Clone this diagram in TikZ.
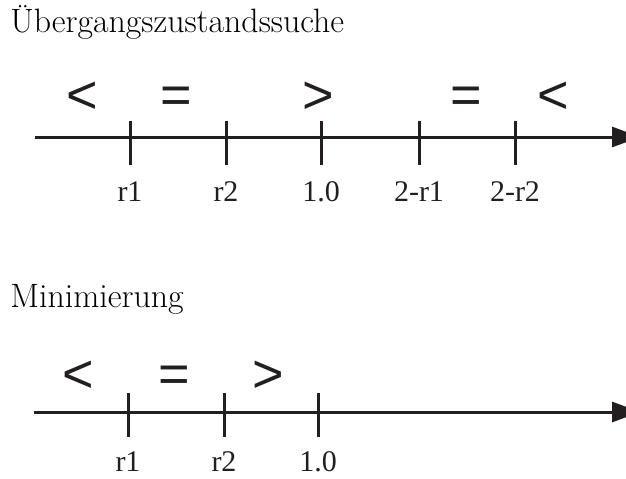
\documentclass[tikz,border=0pt]{standalone}
\usepackage{fontspec}
\setmainfont{Latin Modern Roman}
\newfontfamily\symfont{Liberation Sans}
\newfontfamily\labfont{Liberation Serif}
\usetikzlibrary{arrows.meta}
\definecolor{ink}{RGB}{35,31,32}
\begin{document}
\begin{tikzpicture}[x=0.5pt,y=-0.5pt,
  axisline/.style={draw=ink,line width=1.5pt,-{Triangle[length=14pt,width=10pt]}},
  tickline/.style={draw=ink,line width=1.5pt},
  sym/.style={inner sep=0pt,anchor=base,text=ink,font=\symfont\fontsize{27}{30}\selectfont},
  lab/.style={inner sep=0pt,anchor=base,text=ink,font=\labfont\fontsize{15}{18}\selectfont},
  heading/.style={inner sep=0pt,anchor=base west,font=\fontsize{16.9}{20}\selectfont}]
\useasboundingbox (0,0) rectangle (626,478);
% headings
\node[heading] (h1) at (10,32) {Übergangszustandssuche};
\node[heading] (h2) at (10,307) {Minimierung};
% top axis
\coordinate (s1) at (35,137);
\coordinate (e1) at (640,137);
\draw[axisline] (s1) -- (e1);
\foreach \n/\x/\t in {a/130/r1,b/226/r2,c/321/1.0,d/419/2-r1,e/515/2-r2}{
  \coordinate (T\n) at (\x,137);
  \draw[tickline] (T\n) ++(0,-16) -- ++(0,44);
  \node[lab] (L\n) at (\x,201) {\t};
}
\node[sym] (sa) at (82,113) {<};
\node[sym] (sb) at (176,113) {=};
\node[sym] (sc) at (318,113) {>};
\node[sym] (sd) at (466,113) {=};
\node[sym] (se) at (553,113) {<};
% bottom axis
\coordinate (s2) at (34,412);
\coordinate (e2) at (640,412);
\draw[axisline] (s2) -- (e2);
\foreach \n/\x/\t in {a/128/r1,b/224/r2,c/318/1.0}{
  \coordinate (B\n) at (\x,412);
  \draw[tickline] (B\n) ++(0,-19) -- ++(0,44);
  \node[lab] (M\n) at (\x,471) {\t};
}
\node[sym] (ta) at (78,392) {<};
\node[sym] (tb) at (174,392) {=};
\node[sym] (tc) at (268,392) {>};
\end{tikzpicture}
\end{document}
